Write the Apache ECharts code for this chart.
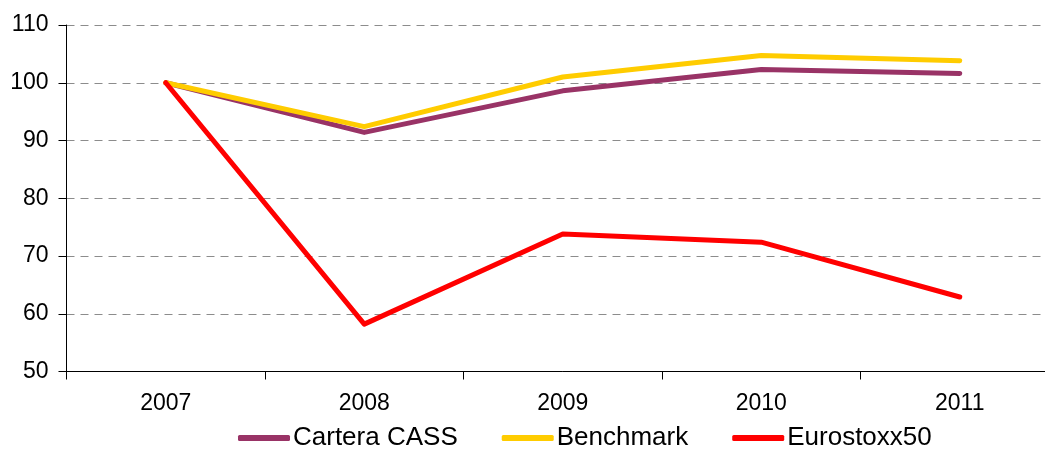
<!DOCTYPE html>
<html>
<head>
<meta charset="utf-8">
<script src="https://cdn.jsdelivr.net/npm/echarts@6/dist/echarts.min.js"></script>
<style>
  html, body { margin: 0; padding: 0; background: #fff; overflow: hidden; }
  /* the plot area runs past the right edge of the picture, so the canvas is a bit wider */
  #chart { width: 1059px; height: 450px; }
</style>
</head>
<body>
<div id="chart"></div>
<script>
const years = ['2007', '2008', '2009', '2010', '2011']
const cartera = [100, 91.4, 98.6, 102.3, 101.6]
const benchmark = [100, 92.4, 101.0, 104.7, 103.8]
const eurostoxx = [100, 58.2, 73.8, 72.4, 62.9]

const chart = echarts.init(document.getElementById('chart'))

const font = 'Arial, "Liberation Sans", sans-serif'

const lineSeries = (name, data, color) => ({
  name,
  type: 'line',
  data,
  symbol: 'none',
  animation: false,
  lineStyle: { color, width: 5, cap: 'round', join: 'round' },
  itemStyle: { color }
})

chart.setOption({
  backgroundColor: '#fff',
  textStyle: { fontFamily: font },
  grid: { left: 66.5, right: 0, top: 25, bottom: 78.5 },
  legend: {
    top: 425,
    left: 238,
    padding: 0,
    itemWidth: 52,
    itemHeight: 6,
    itemGap: 44,
    icon: 'roundRect',
    textStyle: { fontSize: 26, color: '#000', fontFamily: font, padding: [0, 0, 0, -2] },
    data: ['Cartera CASS', 'Benchmark', 'Eurostoxx50']
  },
  xAxis: {
    type: 'category',
    data: years,
    boundaryGap: true,
    axisLine: { lineStyle: { color: '#000', width: 1 } },
    axisTick: { show: true, length: 8, lineStyle: { color: '#000' } },
    axisLabel: { fontSize: 23, color: '#000', margin: 21, fontFamily: font },
    splitLine: { show: false }
  },
  yAxis: {
    type: 'value',
    min: 50,
    max: 110,
    interval: 10,
    axisLine: { show: true, lineStyle: { color: '#000', width: 1 } },
    axisTick: { show: true, length: 8, lineStyle: { color: '#000' } },
    axisLabel: { fontSize: 23, color: '#000', margin: 18, fontFamily: font },
    splitLine: { show: true, lineStyle: { color: '#8c8c8c', type: [8, 6], width: 1 } }
  },
  series: [
    lineSeries('Cartera CASS', cartera, '#993366'),
    lineSeries('Benchmark', benchmark, '#FFCC00'),
    lineSeries('Eurostoxx50', eurostoxx, '#FF0000')
  ]
})
</script>
</body>
</html>
